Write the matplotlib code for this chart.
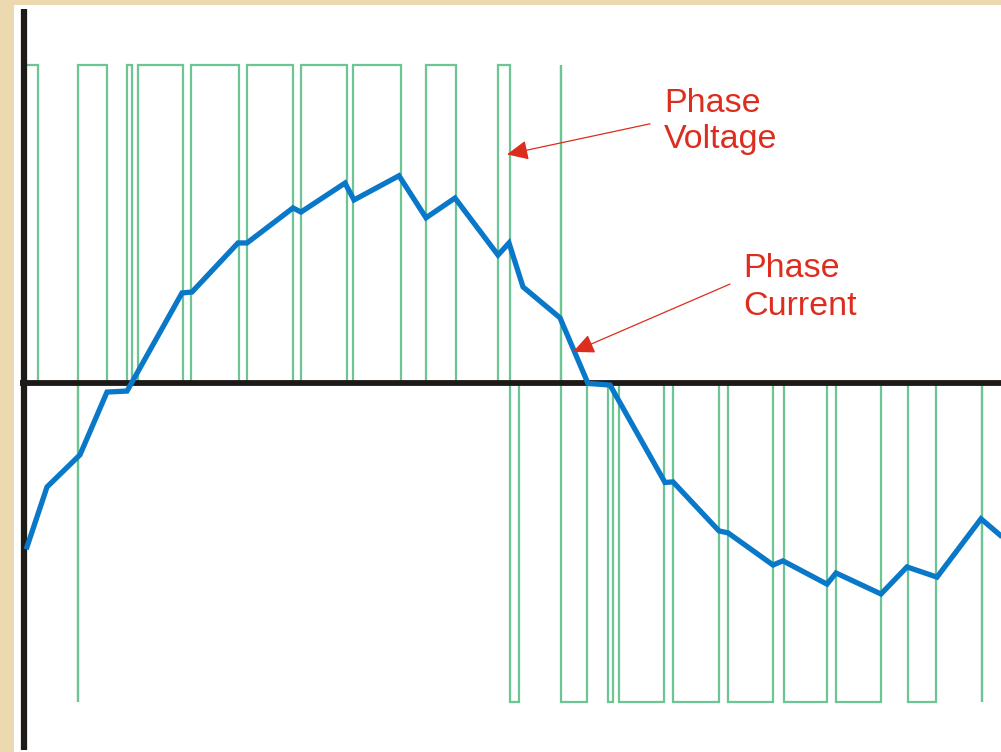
import numpy as np
import matplotlib
matplotlib.use("Agg")
import matplotlib.pyplot as plt

# PWM phase voltage: switching instants and the level reached after each edge
# (time in arbitrary units, level normalised to +/-1)
volt_t0 = 4
volt_start = 1
edge_t = [14, 54, 54, 83, 103, 108, 114, 159, 167, 215, 223, 269, 277, 323,
          329, 377, 402, 432, 474, 486, 495, 537, 537, 563, 584, 589, 595,
          640, 649, 695, 704, 749, 760, 803, 812, 857, 884, 912, 958, 958]
edge_level = [0, -1, 1, 0, 1, 0, 1, 0, 1, 0, 1, 0, 1, 0,
              1, 0, 1, 0, 1, -1, 0, 1, -1, 0, -1, 0, -1,
              0, -1, 0, -1, 0, -1, 0, -1, 0, -1, 0, -1, 0]
volt_t_end = 977

# phase current (same normalised scale)
cur_t = [3, 23, 56, 83, 103, 158, 168, 214, 223, 269, 277, 321, 330, 375,
         402, 431, 474, 485, 499, 536, 564, 586, 641, 649, 695, 704, 749,
         759, 803, 812, 857, 883, 913, 957, 976]
cur_v = [-0.513, -0.325, -0.224, -0.027, -0.024, 0.284, 0.287, 0.441, 0.441,
         0.551, 0.538, 0.629, 0.576, 0.652, 0.520, 0.582, 0.403, 0.441,
         0.303, 0.206, 0.0, -0.005, -0.311, -0.309, -0.463, -0.469, -0.570,
         -0.557, -0.630, -0.595, -0.661, -0.576, -0.608, -0.425, -0.476]

labels = [("Phase", "Voltage"), ("Phase", "Current")]
label_pos = [(640, 0.852, 0.739), (719, 0.334, 0.215)]
arrows = [((626, 0.815), (483, 0.719)), ((706, 0.312), (549, 0.099))]

red = "#dc2d1e"
green = "#6cc592"
blue = "#0a78c8"

# build the step path of the voltage
vx = [volt_t0]
vy = [volt_start]
level = volt_start
for t, lv in zip(edge_t, edge_level):
    vx += [t, t]
    vy += [level, lv]
    level = lv
vx.append(volt_t_end)
vy.append(level)

fig = plt.figure(figsize=(10.01, 7.52), dpi=100, facecolor="#ecd9b0")
ax = fig.add_axes([14 / 1001, 0, 987 / 1001, 747 / 752])
ax.set_facecolor("white")
for s in ax.spines.values():
    s.set_visible(False)
ax.set_xticks([])
ax.set_yticks([])
ax.set_xlim(-10, 977)
ax.set_ylim(-1.157, 1.188)

ax.plot(vx, vy, color=green, lw=1.6, zorder=1, solid_joinstyle="miter")
ax.hlines(0, -4, 977, color="#1e1a18", lw=4.2, zorder=2)
ax.vlines(0, -1.151, 1.176, color="#1e1a18", lw=4.5, zorder=2)
ax.plot(cur_t, cur_v, color=blue, lw=3.8, zorder=3, solid_joinstyle="miter")

for (l1, l2), (x, y1, y2) in zip(labels, label_pos):
    ax.text(x, y1, l1, color=red, fontsize=24.5, family="Liberation Sans",
            va="baseline", ha="left")
    ax.text(x, y2, l2, color=red, fontsize=24.5, family="Liberation Sans",
            va="baseline", ha="left")

for tail, tip in arrows:
    ax.annotate("", xy=tip, xytext=tail,
                arrowprops=dict(arrowstyle="-|>,head_length=1.3,head_width=0.6",
                                color=red, lw=0.9, mutation_scale=10,
                                shrinkA=0, shrinkB=0), zorder=4)

fig.savefig("out.png", dpi=100, facecolor=fig.get_facecolor())
